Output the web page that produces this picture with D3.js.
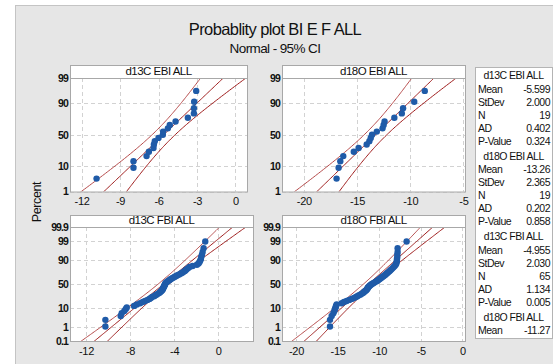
<!DOCTYPE html>
<html><head><meta charset="utf-8">
<script src="https://cdn.jsdelivr.net/npm/d3@7"></script>
<style>
html,body{margin:0;padding:0;background:#fff;}
svg{display:block;}
</style></head>
<body>
<svg id="chart" width="553" height="364"></svg>
<script>
// ---------------- DATA ----------------
const chartTitle = "Probablity plot BI E F ALL";
const chartSubtitle = "Normal - 95% CI";
const yAxisLabel = "Percent";
const panelTitles = ["d13C EBI ALL", "d18O EBI ALL", "d13C FBI ALL", "d18O FBI ALL"];

const d13cEbi = [-10.83,-7.95,-7.95,-6.93,-6.75,-6.39,-6.36,-6.29,-6.00,-5.66,-5.64,-5.27,-5.12,-4.67,-3.71,-3.24,-3.22,-3.24,-3.06];
const d18oEbi = [-16.92,-16.73,-16.57,-16.29,-15.30,-14.85,-14.09,-13.84,-13.71,-13.59,-13.14,-12.60,-12.50,-12.41,-11.49,-10.79,-10.67,-9.62,-8.63];
const d13cFbi = [-10.24,-10.24,-8.85,-8.76,-8.52,-8.39,-8.30,-7.64,-7.39,-7.09,-6.85,-6.64,-6.42,-6.24,-6.12,-6.00,-5.82,-5.70,-5.58,-5.45,
  -5.33,-5.27,-5.18,-5.12,-5.06,-5.03,-5.00,-4.97,-4.94,-4.91,-4.88,-4.85,-4.82,-4.79,-4.73,-4.67,-4.58,-4.48,-4.39,-4.30,
  -4.18,-4.06,-3.94,-3.82,-3.70,-3.55,-3.39,-3.27,-3.15,-3.03,-2.94,-2.85,-2.73,-2.61,-2.33,-1.94,-1.79,-1.70,-1.64,-1.58,
  -1.55,-1.48,-1.42,-1.33,-1.18];
const d18oFbi = [-15.91,-15.91,-15.71,-15.51,-15.39,-15.31,-15.23,-15.19,-15.11,-14.51,-14.23,-13.91,-13.59,-13.31,-13.03,-12.79,-12.63,-12.43,-12.23,-12.07,
  -11.91,-11.83,-11.71,-11.59,-11.51,-11.43,-11.39,-11.35,-11.27,-11.19,-11.11,-10.99,-10.87,-10.71,-10.58,-10.46,-10.30,-10.18,-10.06,-9.94,
  -9.82,-9.70,-9.58,-9.46,-9.34,-9.22,-9.10,-8.98,-8.86,-8.74,-8.62,-8.50,-8.38,-8.26,-8.14,-8.02,-7.94,-7.90,-7.86,-7.86,
  -7.82,-7.82,-7.78,-7.78,-6.70];

const means  = [-5.599, -13.26, -4.955, -11.27];
const stdevs = [2.000, 2.365, 2.030, 2.5];
const counts = [19, 19, 65, 65];
const adStats = [0.402, 0.202, 1.134];
const pValues = [0.324, 0.858, 0.005];
const meanLabels = ["-5.599", "-13.26", "-4.955", "-11.27"];
const stdevLabels = ["2.000", "2.365", "2.030"];
const adLabels = ["0.402", "0.202", "1.134"];
const pLabels = ["0.324", "0.858", "0.005"];

const xTicksList = [[-12,-9,-6,-3,0], [-20,-15,-10,-5], [-12,-8,-4,0], [-20,-15,-10,-5,0]];
const xDomains = [[-12.9,0.9], [-22.05,-4.85], [-13.45,3.15], [-21.68,0.32]];
const pctTicksTop = [1, 10, 50, 90, 99];
const pctTicksBottom = [0.1, 1, 10, 50, 90, 99, 99.9];
const pctDomainTop = [1, 99];
const pctDomainBottom = [0.1, 99.9];

const seriesList = [d13cEbi, d18oEbi, d13cFbi, d18oFbi];

// ---------------- LAYOUT ----------------
const FONT = "'Liberation Sans Narrow','Arial Narrow','Liberation Sans',Arial,sans-serif";
const panels = [
  {x0:70,  x1:247, hTop:65,  y0:78,  y1:191.5, pt:pctTicksTop, pd:pctDomainTop},
  {x0:282, x1:465, hTop:65,  y0:78,  y1:191.5, pt:pctTicksTop, pd:pctDomainTop},
  {x0:70,  x1:253, hTop:215, y0:227, y1:341, pt:pctTicksBottom, pd:pctDomainBottom},
  {x0:282, x1:465, hTop:215, y0:227, y1:341, pt:pctTicksBottom, pd:pctDomainBottom}
];
const BLUE = "#1f5ba8";
const RED = "#9e1b1b";

// inverse normal CDF (Acklam)
function qnorm(p){
  const a=[-3.969683028665376e+01,2.209460984245205e+02,-2.759285104469687e+02,1.383577518672690e+02,-3.066479806614716e+01,2.506628277459239e+00];
  const b=[-5.447609879822406e+01,1.615858368580409e+02,-1.556989798598866e+02,6.680131188771972e+01,-1.328068155288572e+01];
  const c=[-7.784894002430293e-03,-3.223964580411365e-01,-2.400758277161838e+00,-2.549732539343734e+00,4.374664141464968e+00,2.938163982698783e+00];
  const d=[7.784695709041462e-03,3.224671290700398e-01,2.445134137142996e+00,3.754408661907416e+00];
  const pl=0.02425, ph=1-pl; let q,r;
  if(p<pl){q=Math.sqrt(-2*Math.log(p));return (((((c[0]*q+c[1])*q+c[2])*q+c[3])*q+c[4])*q+c[5])/((((d[0]*q+d[1])*q+d[2])*q+d[3])*q+1);}
  if(p<=ph){q=p-0.5;r=q*q;return (((((a[0]*r+a[1])*r+a[2])*r+a[3])*r+a[4])*r+a[5])*q/(((((b[0]*r+b[1])*r+b[2])*r+b[3])*r+b[4])*r+1);}
  q=Math.sqrt(-2*Math.log(1-p));return -(((((c[0]*q+c[1])*q+c[2])*q+c[3])*q+c[4])*q+c[5])/((((d[0]*q+d[1])*q+d[2])*q+d[3])*q+1);
}

const svg = d3.select("#chart");
svg.style("font-family", FONT);

// outer gray panel
svg.append("rect").attr("x",15.5).attr("y",5.5).attr("width",545).attr("height",365)
  .attr("fill","#e6e6e6").attr("stroke","#c4c4c4");

svg.append("text").attr("x",275).attr("y",35).attr("text-anchor","middle")
  .attr("font-size",16.5).attr("fill","#111").style("letter-spacing","-0.6px").text(chartTitle);
svg.append("text").attr("x",275).attr("y",53).attr("text-anchor","middle")
  .attr("font-size",13.5).attr("fill","#111").style("letter-spacing","-0.6px").text(chartSubtitle);

svg.append("text").attr("transform","translate(41,202) rotate(-90)").attr("text-anchor","middle")
  .attr("font-size",12.5).attr("fill","#111").style("letter-spacing","-0.4px").text(yAxisLabel);

panels.forEach((P, k) => {
  const data = seriesList[k].slice().sort((a,b)=>a-b);
  const n = counts[k];
  const x = d3.scaleLinear().domain(xDomains[k]).range([P.x0, P.x1]);
  const zmin = qnorm(P.pd[0]/100), zmax = qnorm(P.pd[1]/100);
  const y = d3.scaleLinear().domain([zmin, zmax]).range([P.y1, P.y0]);
  const g = svg.append("g");

  // header
  g.append("rect").attr("x",P.x0+0.5).attr("y",P.hTop+0.5).attr("width",P.x1-P.x0).attr("height",P.y0-P.hTop)
    .attr("fill","#fff").attr("stroke","#a8a8a8");
  g.append("text").attr("x",(P.x0+P.x1)/2).attr("y",P.y0-3).attr("text-anchor","middle")
    .attr("font-size",11.5).attr("fill","#111").style("letter-spacing","-0.5px").text(panelTitles[k]);

  // plot area
  g.append("rect").attr("x",P.x0+0.5).attr("y",P.y0+0.5).attr("width",P.x1-P.x0).attr("height",P.y1-P.y0)
    .attr("fill","#fff");

  // grid
  const grid = g.append("g").attr("stroke","#d2d2d2").attr("stroke-dasharray","4,3").attr("stroke-width",1);
  xTicksList[k].forEach(t => grid.append("line").attr("x1",Math.round(x(t))+0.5).attr("x2",Math.round(x(t))+0.5)
    .attr("y1",P.y0).attr("y2",P.y1));
  P.pt.forEach(t => grid.append("line").attr("x1",P.x0).attr("x2",P.x1)
    .attr("y1",Math.round(y(qnorm(t/100)))+0.5).attr("y2",Math.round(y(qnorm(t/100)))+0.5));

  // clip
  const cid = "clip"+k;
  svg.append("clipPath").attr("id",cid).append("rect").attr("x",P.x0).attr("y",P.y0)
    .attr("width",P.x1-P.x0).attr("height",P.y1-P.y0);
  const clipG = g.append("g").attr("clip-path",`url(#${cid})`);

  // fit + CI lines
  const m = means[k], s = stdevs[k];
  const zs = d3.range(zmin-0.3, zmax+0.3001, 0.05);
  const fit = z => m + s*z;
  const se = z => s*Math.sqrt(1/n + z*z/(2*(n-1)));
  const line = d3.line().x(d=>x(d[0])).y(d=>y(d[1]));
  [[-1,"#b54a4a"],[0,RED],[1,RED]].forEach(([sgn,col]) => {
    clipG.append("path").datum(zs.map(z=>[fit(z)+sgn*1.96*se(z), z]))
      .attr("d",line).attr("fill","none").attr("stroke",col).attr("stroke-width",1);
  });

  // points
  clipG.selectAll("circle").data(data).enter().append("circle")
    .attr("cx",d=>x(d)).attr("cy",(d,i)=>y(qnorm((i+1-0.3)/(n+0.4))))
    .attr("r",3.2).attr("fill",BLUE);

  // border
  g.append("rect").attr("x",P.x0+0.5).attr("y",P.y0+0.5).attr("width",P.x1-P.x0).attr("height",P.y1-P.y0)
    .attr("fill","none").attr("stroke","#a8a8a8");

  // axes
  const xa = g.append("g").attr("transform",`translate(0,${P.y1})`)
    .call(d3.axisBottom(x).tickValues(xTicksList[k]).tickSize(0).tickPadding(6).tickFormat(d=>d));
  xa.select(".domain").remove();
  xa.selectAll("text").attr("font-size",11).attr("fill","#111").style("font-family",FONT).style("letter-spacing","-0.3px");

  const ya = g.append("g").attr("transform",`translate(${P.x0},0)`)
    .call(d3.axisLeft(d3.scaleIdentity()).tickValues(P.pt.map(t=>y(qnorm(t/100)))).tickSize(0).tickPadding(2)
      .tickFormat((d,i)=>String(P.pt[i])));
  ya.select(".domain").remove();
  ya.selectAll("text").attr("font-size",10.5).attr("fill","#111").style("font-family",FONT).style("letter-spacing","-0.9px")
    .style("font-weight","bold");
});

// legend
const L = {x0:475, x1:552, y0:67, y1:338};
svg.append("rect").attr("x",L.x0+0.5).attr("y",L.y0+0.5).attr("width",L.x1-L.x0).attr("height",L.y1-L.y0)
  .attr("fill","#fff").attr("stroke","#b4b4b4");
const rows = [];
for (let k=0;k<4;k++){
  rows.push({type:"title", text:panelTitles[k]});
  rows.push({type:"row", label:"Mean", value:meanLabels[k]});
  if (k<3){
    rows.push({type:"row", label:"StDev", value:stdevLabels[k]});
    rows.push({type:"row", label:"N", value:String(counts[k])});
    rows.push({type:"row", label:"AD", value:adLabels[k]});
    rows.push({type:"row", label:"P-Value", value:pLabels[k]});
  }
}
let yy = 79.2;
const lg = svg.append("g").attr("font-size",10.5).attr("fill","#111").style("letter-spacing","-0.5px");
rows.forEach((r,i) => {
  if (r.type==="title" && i>0) yy += 2;
  if (r.type==="title"){
    lg.append("text").attr("x",(L.x0+L.x1)/2).attr("y",yy).attr("text-anchor","middle").text(r.text);
    yy += 13.5;
  } else {
    lg.append("text").attr("x",L.x0+3).attr("y",yy).text(r.label);
    lg.append("text").attr("x",L.x1-2).attr("y",yy).attr("text-anchor","end").text(r.value);
    yy += 13;
  }
});
</script>
</body></html>
